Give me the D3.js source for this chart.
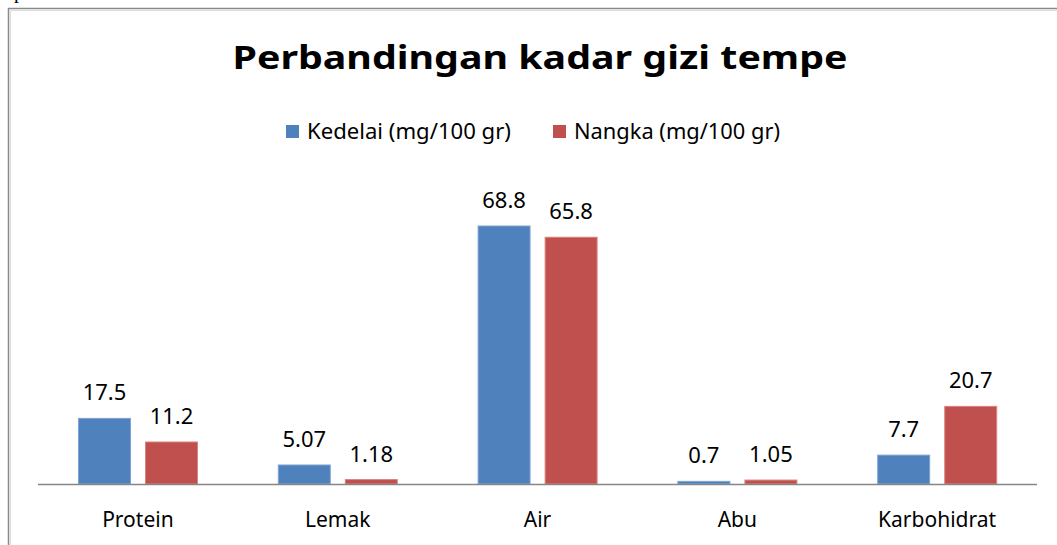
<!DOCTYPE html>
<html>
<head>
<meta charset="utf-8">
<script src="https://cdn.jsdelivr.net/npm/d3@7"></script>
<style>
  body{margin:0;background:#fff;overflow:hidden;}
  svg{display:block;}
</style>
</head>
<body>
<div id="chart"></div>
<script>
const categories=["Protein","Lemak","Air","Abu","Karbohidrat"];
const kedelai=[17.5,5.07,68.8,0.7,7.7];
const nangka=[11.2,1.18,65.8,1.05,20.7];
const seriesNames=["Kedelai (mg/100 gr)","Nangka (mg/100 gr)"];
const colors=["#4F81BD","#C0504D"];
const strokes=["#7FA3D2","#D9827F"];

const width=1057,height=545;
const font="'Noto Sans', 'Open Sans', sans-serif";

const svg=d3.select("#chart").append("svg")
    .attr("width",width)
    .attr("height",height);

// cut-off text above the chart frame
svg.append("text")
    .attr("x",14)
    .attr("y",-2)
    .attr("font-family","'Liberation Serif', serif")
    .attr("font-size",20)
    .text("pada Gambar 1.");

// chart frame
svg.append("path")
    .attr("d","M8.5,"+height+"V8.5H"+width)
    .attr("fill","none")
    .attr("stroke","#8a8a8a")
    .attr("stroke-width",1.5);
svg.append("path")
    .attr("d","M10.5,"+height+"V10.5H"+width)
    .attr("fill","none")
    .attr("stroke","#dcdcdc")
    .attr("stroke-width",1);

svg.append("text")
    .attr("x",540)
    .attr("y",69)
    .attr("text-anchor","middle")
    .attr("font-family",font)
    .attr("font-weight","bold")
    .attr("font-size",32)
    .attr("textLength",615)
    .attr("lengthAdjust","spacingAndGlyphs")
    .text("Perbandingan kadar gizi tempe");

// legend
const legendX=[286,553];
const legendW=[204,206];
const legend=svg.append("g").selectAll("g")
    .data(seriesNames)
    .join("g")
    .attr("transform",(d,i)=>`translate(${legendX[i]},125)`);
legend.append("rect")
    .attr("width",13)
    .attr("height",13)
    .attr("fill",(d,i)=>colors[i]);
legend.append("text")
    .attr("x",21)
    .attr("y",14)
    .attr("font-family",font)
    .attr("font-size",21)
    .attr("textLength",(d,i)=>legendW[i])
    .attr("lengthAdjust","spacingAndGlyphs")
    .text(d=>d);

const x=d3.scaleBand()
    .domain(categories)
    .range([38,1037]);
const inner=d3.scaleBand()
    .domain([0,1])
    .range([40,160])
    .paddingInner(0.21);
const y=d3.scaleLinear()
    .domain([0,80])
    .range([484,184]);

const data=categories.map((c,i)=>({cat:c,values:[kedelai[i],nangka[i]]}));

const groups=svg.append("g").selectAll("g")
    .data(data)
    .join("g")
    .attr("transform",d=>`translate(${x(d.cat)},0)`);

groups.selectAll("rect")
    .data(d=>d.values.map((v,i)=>({v,i})))
    .join("rect")
    .attr("x",d=>inner(d.i)+0.5)
    .attr("y",d=>y(d.v))
    .attr("width",inner.bandwidth()-1)
    .attr("height",d=>y(0)-y(d.v))
    .attr("fill",d=>colors[d.i])
    .attr("stroke",d=>strokes[d.i])
    .attr("stroke-width",1);

groups.selectAll("text.val")
    .data(d=>d.values.map((v,i)=>({v,i})))
    .join("text")
    .attr("class","val")
    .attr("x",d=>inner(d.i)+inner.bandwidth()/2)
    .attr("y",d=>y(d.v)-18)
    .attr("text-anchor","middle")
    .attr("font-family",font)
    .attr("font-size",22)
    .attr("fill","#000")
    .text(d=>d.v);

// category axis
svg.append("line")
    .attr("x1",38)
    .attr("x2",1037)
    .attr("y1",484.5)
    .attr("y2",484.5)
    .attr("stroke","#868686")
    .attr("stroke-width",1.5);

svg.append("g").selectAll("text")
    .data(categories)
    .join("text")
    .attr("x",d=>x(d)+x.bandwidth()/2)
    .attr("y",527)
    .attr("text-anchor","middle")
    .attr("font-family",font)
    .attr("font-size",21)
    .text(d=>d);
</script>
</body>
</html>
